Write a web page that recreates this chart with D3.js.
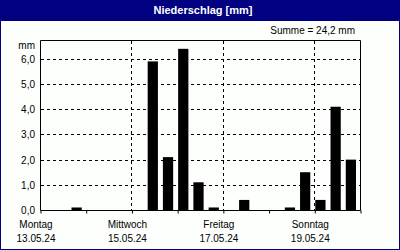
<!DOCTYPE html>
<html>
<head>
<meta charset="utf-8">
<script src="https://cdn.jsdelivr.net/npm/d3@7"></script>
<style>
  html, body { margin: 0; padding: 0; background: #fcfffc; }
  svg { display: block; }
  text { font-family: "Liberation Sans", Arial, sans-serif; }
</style>
</head>
<body>
<svg id="chart"></svg>
<script>
// Niederschlag je 8-Stunden-Intervall, 13.05.24 bis 19.05.24
const days = ['2024-05-13', '2024-05-14', '2024-05-15', '2024-05-16', '2024-05-17', '2024-05-18', '2024-05-19'];
const dayNames = ['Montag', 'Dienstag', 'Mittwoch', 'Donnerstag', 'Freitag', 'Samstag', 'Sonntag'];
const dayDates = ['13.05.24', '14.05.24', '15.05.24', '16.05.24', '17.05.24', '18.05.24', '19.05.24'];
const precip = [
  0, 0, 0.1,
  0, 0, 0,
  0, 5.9, 2.1,
  6.4, 1.1, 0.1,
  0, 0.4, 0,
  0, 0.1, 1.5,
  0.4, 4.1, 2.0
];
const yTicks = [0, 1, 2, 3, 4, 5, 6];
const labelDays = [0, 2, 4, 6];
const sumText = 'Summe = 24,2 mm';
const title = 'Niederschlag [mm]';

const width = 400;
const height = 250;
const navy = '#000080';

const svg = d3.select('#chart')
  .attr('width', width)
  .attr('height', height);

// Rahmen und Titelleiste
svg.append('rect')
  .attr('x', 0.5).attr('y', 0.5)
  .attr('width', width - 1).attr('height', height - 1)
  .attr('fill', '#fcfffc')
  .attr('stroke', navy);

svg.append('rect')
  .attr('x', 0).attr('y', 0)
  .attr('width', width).attr('height', 21)
  .attr('fill', navy);

svg.append('text')
  .attr('x', 203).attr('y', 14)
  .attr('text-anchor', 'middle')
  .attr('font-size', 11)
  .attr('font-weight', 'bold')
  .attr('fill', '#fff')
  .text(title);

svg.append('text')
  .attr('x', 355).attr('y', 34)
  .attr('text-anchor', 'end')
  .attr('font-size', 10)
  .attr('fill', '#000')
  .text(sumText);

// Skalen
const parse = d3.utcParse('%Y-%m-%d');
const start = parse(days[0]);
const end = d3.utcDay.offset(parse(days[days.length - 1]), 1);

const x = d3.scaleUtc()
  .domain([start, end])
  .range([40, 360]);

const y = d3.scaleLinear()
  .domain([0, 6.75])
  .range([210, 40]);

const slots = precip.map((v, i) => ({
  t: d3.utcHour.offset(start, i * 8),
  v: v
}));

// Gitterlinien
svg.append('g')
  .selectAll('line')
  .data(yTicks.filter(d => d > 0))
  .enter().append('line')
  .attr('x1', 41).attr('x2', 360)
  .attr('y1', d => Math.round(y(d)) + 0.5)
  .attr('y2', d => Math.round(y(d)) + 0.5)
  .attr('stroke', '#000')
  .attr('stroke-dasharray', '3,3');

svg.append('g')
  .selectAll('line')
  .data(labelDays.filter(d => d > 0))
  .enter().append('line')
  .attr('x1', d => Math.round(x(parse(days[d]))) + 0.5)
  .attr('x2', d => Math.round(x(parse(days[d]))) + 0.5)
  .attr('y1', 41).attr('y2', 210)
  .attr('stroke', '#000')
  .attr('stroke-dasharray', '3,3');

// Balken
svg.append('g')
  .selectAll('rect')
  .data(slots.filter(d => d.v > 0))
  .enter().append('rect')
  .attr('x', d => x(d.t) + 1)
  .attr('width', d => x(d3.utcHour.offset(d.t, 8)) - x(d.t) - 5)
  .attr('y', d => y(d.v))
  .attr('height', d => y(0) - y(d.v))
  .attr('fill', '#000');

// Achsen
svg.append('path')
  .attr('d', 'M40.5,210.5V40.5H360.5V210.5')
  .attr('fill', 'none')
  .attr('stroke', '#000');

const xAxis = d3.axisBottom(x)
  .ticks(d3.utcDay.every(1))
  .tickSize(3)
  .tickFormat('');

svg.append('g')
  .attr('transform', 'translate(0.5,210.5)')
  .call(xAxis)
  .call(g => g.select('.domain').attr('d', 'M40,0H360'));

svg.append('g')
  .selectAll('text')
  .data(yTicks)
  .enter().append('text')
  .attr('x', 35)
  .attr('y', d => y(d) + 4)
  .attr('text-anchor', 'end')
  .attr('font-size', 10)
  .attr('fill', '#000')
  .text(d => d3.format('.1f')(d).replace('.', ','));

svg.append('text')
  .attr('x', 35).attr('y', 49)
  .attr('text-anchor', 'end')
  .attr('font-size', 10)
  .attr('fill', '#000')
  .text('mm');

const dayLabels = svg.append('g')
  .selectAll('g')
  .data(labelDays)
  .enter().append('g')
  .attr('transform', d => 'translate(' + (x(parse(days[d])) - 4) + ',0)');

dayLabels.append('text')
  .attr('y', 228)
  .attr('text-anchor', 'middle')
  .attr('font-size', 10)
  .attr('fill', '#000')
  .text(d => dayNames[d]);

dayLabels.append('text')
  .attr('y', 242)
  .attr('text-anchor', 'middle')
  .attr('font-size', 10)
  .attr('fill', '#000')
  .text(d => dayDates[d]);
</script>
</body>
</html>
